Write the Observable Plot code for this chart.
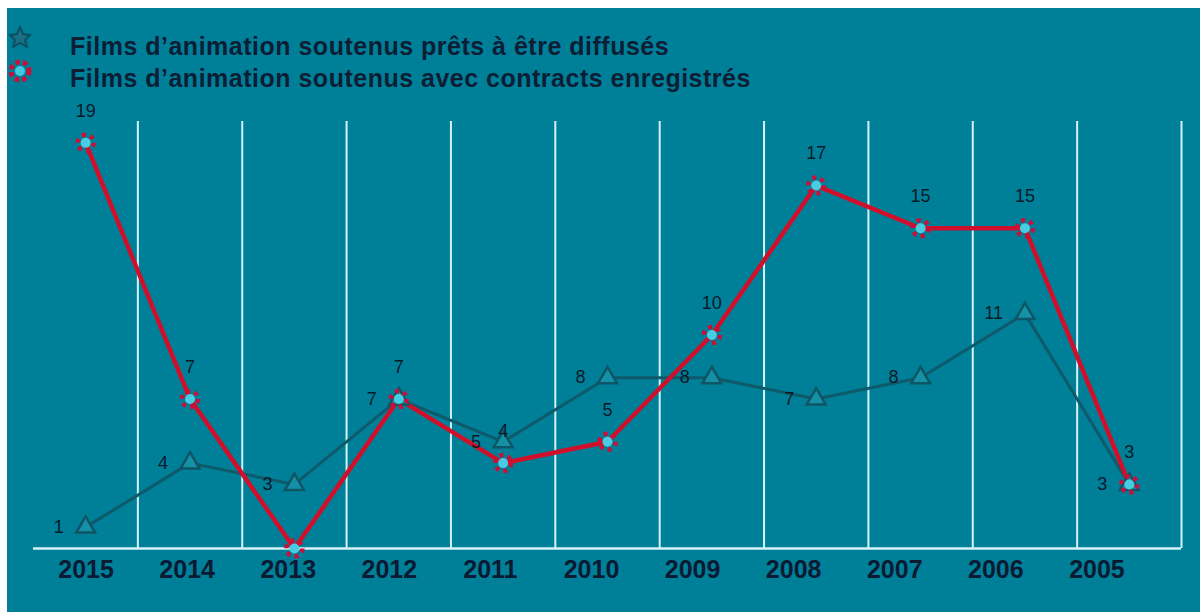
<!DOCTYPE html>
<html><head><meta charset="utf-8">
<script src="https://cdn.jsdelivr.net/npm/d3@7"></script>
<script src="https://cdn.jsdelivr.net/npm/@observablehq/plot@0.6"></script>
<style>
body{margin:0;background:#fff;width:1200px;height:612px;overflow:hidden;position:relative;font-family:Arial,"Liberation Sans",sans-serif}
#bg{position:absolute;left:7px;top:8px;width:1193px;height:604px;background:#008098}
#main,#axis,#legend{position:absolute;left:0}
#main{top:0}
#axis{top:548px}
#legend{top:0}
svg{background:transparent}
</style></head>
<body>
<div id="bg"></div>
<div id="main"></div>
<div id="axis"></div>
<svg id="legend" width="800" height="100" style="position:absolute;left:0;top:0;overflow:visible">
  <g transform="translate(20,37)">
    <path d="M0,-10 L3,-3 L10,-2 L5,3 L7,10 L0,6 L-7,10 L-5,3 L-10,-2 L-3,-3 Z" fill="#1a6f85" stroke="#0d4f62" stroke-width="2"/>
  </g>
  <g transform="translate(20,71)">
    <circle r="9" fill="none" stroke="#c8103a" stroke-width="5" stroke-dasharray="4.5,3"/>
    <circle r="5" fill="#40c8e0"/>
  </g>
  <text x="70" y="55" font-family="Arial, 'Liberation Sans', sans-serif" font-weight="bold" font-size="25" letter-spacing="0.5" fill="#0b1e36">Films d’animation soutenus prêts à être diffusés</text>
  <text x="70" y="87" font-family="Arial, 'Liberation Sans', sans-serif" font-weight="bold" font-size="25" letter-spacing="0.5" fill="#0b1e36">Films d’animation soutenus avec contracts enregistrés</text>
</svg>
<script>
const years = ["2015","2014","2013","2012","2011","2010","2009","2008","2007","2006","2005"];
const pretsDiffuses = [1,4,3,7,5,8,8,7,8,11,3];
const contratsEnregistres = [19,7,0,7,4,5,10,17,15,15,3];

const idx = years.map((_, i) => i);
const blue = idx.map(i => ({i, v: pretsDiffuses[i]}));
const red = idx.map(i => ({i, v: contratsEnregistres[i]}));
const gridIdx = idx.map(i => i + 0.5);

const font = "Arial, 'Liberation Sans', sans-serif";
const main = Plot.plot({
  width: 1200, height: 612,
  marginLeft: 33, marginRight: 19, marginTop: 121, marginBottom: 64,
  x: {type: "linear", domain: [-0.5, 10.5], axis: null},
  y: {domain: [0, 20], axis: null},
  style: {background: "transparent", fontFamily: font},
  marks: [
    Plot.ruleX(gridIdx, {x: d => d, y1: 0, y2: 20, stroke: "#d4f2f8", strokeWidth: 2}),
    Plot.ruleY([0], {stroke: "#d4f2f8", strokeWidth: 2.5}),
    Plot.line(blue, {x: "i", y: "v", stroke: "#0e5a6b", strokeWidth: 3}),
    Plot.line(red, {x: "i", y: "v", stroke: "#d0102a", strokeWidth: 4.5}),
    Plot.dot(blue, {x: "i", y: "v", symbol: "triangle", r: 7, fill: "#1690a6", stroke: "#0e5566", strokeWidth: 2.5}),
    Plot.dot(red, {x: "i", y: "v", r: 5, fill: "#48cce2", stroke: "none"}),
    Plot.dot(red, {x: "i", y: "v", r: 8, fill: "none", stroke: "#c8103a", strokeWidth: 4.5, strokeDasharray: "4,4.4"}),
    Plot.text(blue, {x: "i", y: "v", text: d => String(d.v), textAnchor: "end", dx: -22, dy: 0, fontSize: 18, fill: "#0b1a2a"}),
    Plot.text(red.filter(d => d.v > 0), {x: "i", y: "v", text: d => String(d.v), dy: -32, fontSize: 18, fill: "#0b1a2a"})
  ]
});
document.getElementById("main").append(main);

const axis = Plot.plot({
  width: 1200, height: 64,
  marginLeft: 35, marginRight: 53, marginTop: 0, marginBottom: 64,
  x: {type: "linear", domain: [-0.5, 10.5]},
  y: {axis: null},
  style: {background: "transparent", fontFamily: font},
  marks: [
    Plot.axisX(idx, {anchor: "bottom", ticks: idx, tickSize: 0, tickPadding: 12, tickFormat: i => years[i], fontSize: 25, fontWeight: "bold", fill: "#0b1a33", label: null})
  ]
});
document.getElementById("axis").append(axis);
</script>
</body></html>
